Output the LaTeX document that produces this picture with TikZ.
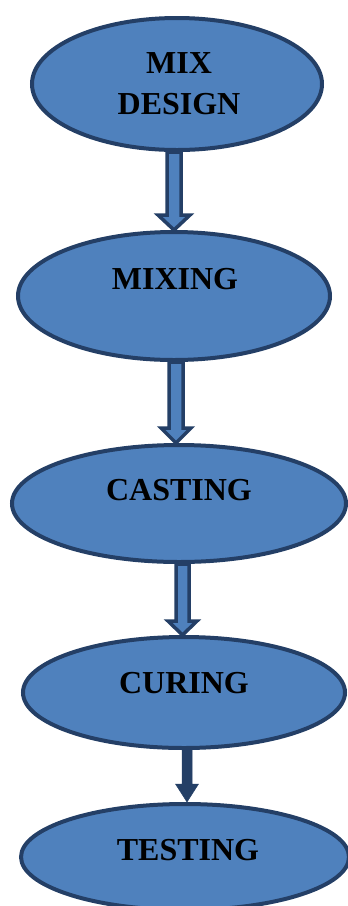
\documentclass[tikz,border=0pt]{standalone}
\usepackage{fontspec}
\setmainfont{Liberation Serif}
\usetikzlibrary{shapes.geometric,calc}
\definecolor{fillblue}{HTML}{4F81BD}
\definecolor{darkblue}{HTML}{243F66}
\tikzset{
  stage/.style={ellipse, draw=darkblue, line width=4pt, fill=fillblue, inner sep=0pt,
    font=\fontsize{32}{41}\selectfont\bfseries, align=center, text=black},
  barrow/.style={fill=fillblue, draw=darkblue, line width=3.5pt, line join=miter},
  sarrow/.style={fill=darkblue, draw=darkblue, line width=0.5pt},
}
% #1 from node, #2 to node, #3 x, #4 half shaft, #5 half head, #6 head length, #7 style
\newcommand{\blockarr}[7]{%
  \path[#7] let \p1=(#1.south), \p2=(#2.north) in
    (#3-#4,\y1) -- (#3+#4,\y1) -- (#3+#4,\y2+#6pt) -- (#3+#5,\y2+#6pt)
    -- (#3,\y2) -- (#3-#5,\y2+#6pt) -- (#3-#4,\y2+#6pt) -- cycle;}
\begin{document}
\begin{tikzpicture}[x=1pt,y=-1pt]
\useasboundingbox (0,0) rectangle (348,906);
\node[stage, minimum width=290pt, minimum height=132pt] (a) at (177,84) {\hspace*{4pt}MIX\\\hspace*{4pt}DESIGN};
\node[stage, minimum width=312pt, minimum height=128pt] (b) at (174,296) {\raisebox{34pt}{\hspace*{2pt}MIXING}};
\node[stage, minimum width=334pt, minimum height=117pt] (c) at (179,503.5) {\raisebox{28pt}{CASTING}};
\node[stage, minimum width=322pt, minimum height=111pt] (d) at (184,692.5) {\raisebox{20pt}{CURING}};
\node[stage, minimum width=328pt, minimum height=106pt] (e) at (185,857) {\raisebox{14pt}{\hspace*{6pt}TESTING}};
\blockarr{a}{b}{174}{7}{16}{15}{barrow}
\blockarr{b}{c}{176}{7}{15}{15}{barrow}
\blockarr{c}{d}{182.5}{6.5}{14.5}{14}{barrow}
\blockarr{d}{e}{187}{5}{11.5}{18}{sarrow}
\end{tikzpicture}
\end{document}
